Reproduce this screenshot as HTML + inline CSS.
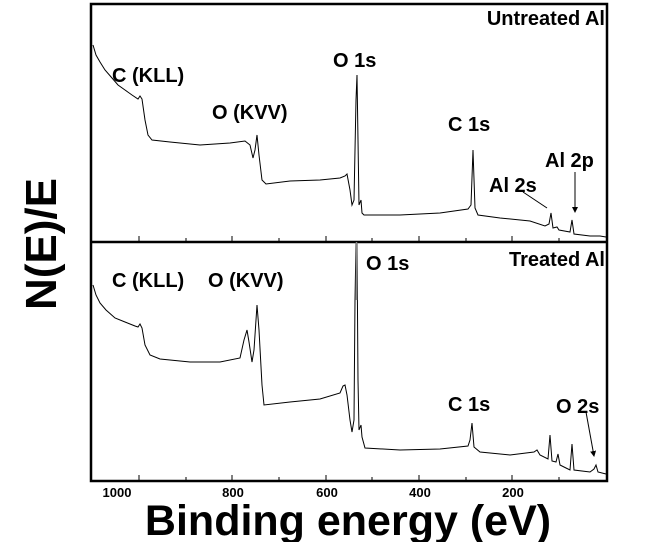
<!DOCTYPE html>
<html><head><style>
body{margin:0;background:#fff;width:647px;height:542px;overflow:hidden}
text{font-family:"Liberation Sans",Arial,sans-serif;font-weight:bold;fill:#000}
</style></head><body>
<svg width="647" height="542" viewBox="0 0 647 542" xmlns="http://www.w3.org/2000/svg">
<defs><marker id="ah" markerWidth="6" markerHeight="6" refX="5" refY="3" orient="auto"><path d="M0,0 L6,3 L0,6 z" fill="#000"/></marker></defs>
<rect x="91" y="4" width="516" height="477" fill="none" stroke="#000" stroke-width="2.5"/>
<line x1="91" y1="242" x2="607" y2="242" stroke="#000" stroke-width="2.5"/>
<g stroke="#000" stroke-width="1">
<line x1="139" y1="236" x2="139" y2="241"/><line x1="186" y1="238" x2="186" y2="241"/><line x1="232" y1="236" x2="232" y2="241"/><line x1="279" y1="238" x2="279" y2="241"/><line x1="326" y1="236" x2="326" y2="241"/><line x1="372" y1="238" x2="372" y2="241"/><line x1="419" y1="236" x2="419" y2="241"/><line x1="466" y1="238" x2="466" y2="241"/><line x1="512" y1="236" x2="512" y2="241"/><line x1="559" y1="238" x2="559" y2="241"/>
<line x1="139" y1="475" x2="139" y2="480"/><line x1="186" y1="477" x2="186" y2="480"/><line x1="232" y1="475" x2="232" y2="480"/><line x1="279" y1="477" x2="279" y2="480"/><line x1="326" y1="475" x2="326" y2="480"/><line x1="372" y1="477" x2="372" y2="480"/><line x1="419" y1="475" x2="419" y2="480"/><line x1="466" y1="477" x2="466" y2="480"/><line x1="512" y1="475" x2="512" y2="480"/><line x1="559" y1="477" x2="559" y2="480"/>
</g>
<polyline fill="none" stroke="#000" stroke-width="1" points="93,45 96,55 100,62 105,70 112,78 118,85 125,90 132,95 138,99 140,96 142,99 145,120 148,135 152,140 170,142 200,145 230,143 245,141 250,145 253,158 255,150 257,135 259,155 262,180 266,184 290,181 320,180 340,178 345,176 347,174 350,190 352,205 354,200 356,100 357,75 358,140 359,205 361,200 362,213 364,215 400,215 440,213 468,209 471,205 473,150 475,208 478,215 500,218 530,221 545,226 549,224 551,213 553,228 557,227 559,230 570,232 572,220 574,234 590,236 600,236 606,237"/>
<polyline fill="none" stroke="#000" stroke-width="1" points="93,285 96,295 100,303 106,310 115,318 125,322 135,326 138,327 140,324 142,328 145,345 150,355 160,359 190,362 220,362 240,358 244,340 247,330 249,342 252,362 254,350 256,320 257,305 259,330 262,385 264,405 290,402 320,399 340,393 343,386 345,385 347,395 350,420 352,432 354,420 355,300 356,244 357,244 358,380 359,430 361,425 362,437 365,448 400,450 440,449 468,446 470,440 472,423 474,447 480,452 510,455 534,452 537,450 540,455 548,459 550,435 552,461 556,462 558,454 560,465 566,468 570,470 572,444 574,470 590,472 594,469 596,465 598,472 606,474"/>
<line x1="356.5" y1="242" x2="356.5" y2="300" stroke="#888" stroke-width="1.5"/>
<line x1="523" y1="192" x2="547" y2="208" stroke="#000" stroke-width="1"/>
<line x1="575" y1="172" x2="575" y2="212" stroke="#000" stroke-width="1" marker-end="url(#ah)"/>
<line x1="586" y1="412" x2="594" y2="456" stroke="#000" stroke-width="1" marker-end="url(#ah)"/>
<g font-size="20">
<text x="605" y="25" text-anchor="end">Untreated Al</text>
<text x="112" y="82">C (KLL)</text>
<text x="212" y="119">O (KVV)</text>
<text x="333" y="67">O 1s</text>
<text x="448" y="131">C 1s</text>
<text x="489" y="192">Al 2s</text>
<text x="545" y="167">Al 2p</text>
<text x="605" y="266" text-anchor="end">Treated Al</text>
<text x="112" y="287">C (KLL)</text>
<text x="208" y="287">O (KVV)</text>
<text x="366" y="270">O 1s</text>
<text x="448" y="411">C 1s</text>
<text x="556" y="413">O 2s</text>
</g>
<g font-size="13" text-anchor="middle">
<text x="117" y="497">1000</text><text x="233" y="497">800</text><text x="327" y="497">600</text><text x="420" y="497">400</text><text x="513" y="497">200</text>
</g>
<text x="348" y="535" font-size="43" text-anchor="middle">Binding energy (eV)</text>
<text transform="translate(56,244) rotate(-90)" font-size="44" text-anchor="middle">N(E)/E</text>
</svg>
</body></html>
